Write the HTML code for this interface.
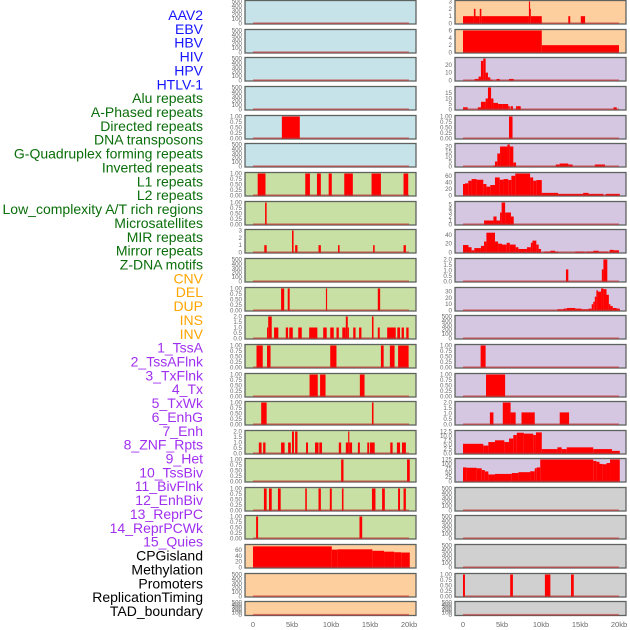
<!DOCTYPE html>
<html><head><meta charset="utf-8">
<style>
html,body{margin:0;padding:0;background:#fff;}
svg{display:block;font-family:"Liberation Sans",sans-serif;}
</style></head>
<body>
<svg id="chart" width="630" height="630" viewBox="0 0 630 630" xmlns="http://www.w3.org/2000/svg">
<g id="labels"></g>
<g id="panels"></g>
<g id="xaxes"></g>
</svg>
<script>
// ---- track labels ----
const trackNames = ["AAV2","EBV","HBV","HIV","HPV","HTLV-1","Alu repeats","A-Phased repeats","Directed repeats","DNA transposons","G-Quadruplex forming repeats","Inverted repeats","L1 repeats","L2 repeats","Low_complexity A/T rich regions","Microsatellites","MIR repeats","Mirror repeats","Z-DNA motifs","CNV","DEL","DUP","INS","INV","1_TssA","2_TssAFlnk","3_TxFlnk","4_Tx","5_TxWk","6_EnhG","7_Enh","8_ZNF_Rpts","9_Het","10_TssBiv","11_BivFlnk","12_EnhBiv","13_ReprPC","14_ReprPCWk","15_Quies","CPGisland","Methylation","Promoters","ReplicationTiming","TAD_boundary"];
const trackGroups = [0,0,0,0,0,0,1,1,1,1,1,1,1,1,1,1,1,1,1,2,2,2,2,2,3,3,3,3,3,3,3,3,3,3,3,3,3,3,3,4,4,4,4,4];
const groupColors = ["#1515ff","#0a6e0a","#ffa500","#a030f0","#000000"];

// ---- x axis ----
const xTickValues = [0,5,10,15,20];
const xTickLabels = ["0","5kb","10kb","15kb","20kb"];

// ---- left column panels: [startKb, endKb, value] ----
const L0 = [], L1 = [], L2 = [], L3 = [], L5 = [], L9 = [], L20 = [], L21 = [];
const L4 = [[3.7,6.0,1]];
const L6 = [[0.6,1.6,1],[6.7,7.3,1],[8.2,8.7,1],[9.7,10.1,1],[11.7,12.8,1],[15.2,16.4,1],[19.3,19.9,1]];
const L7 = [[1.55,1.75,1]];
const L8 = [[1.45,1.75,1],[5.0,5.2,3],[5.4,5.7,1],[8.4,8.7,1],[10.9,11.1,1],[15.4,15.6,1],[19.3,19.6,1]];
const L10 = [[3.6,4.0,1],[4.45,4.7,1],[9.35,9.5,1],[16.0,16.3,1]];
const L11 = [[1.8,1.95,1],[1.95,2.4,2],[2.7,3.25,1],[4.2,4.5,1],[4.65,5.1,1],[5.8,6.25,1],[7.2,8.25,1],[9.0,9.45,1],[9.9,10.35,1],[10.7,11.0,1],[11.45,11.9,1],[11.9,12.15,2],[12.15,12.3,1],[12.85,13.15,1],[13.6,13.9,1],[15.25,15.45,2],[16.0,16.25,1],[17.2,18.3,1],[18.5,18.85,1],[19.05,19.35,1],[19.65,19.95,1]];
const L12 = [[0.45,1.25,1],[1.8,2.25,1],[9.9,10.7,1],[16.4,16.75,1],[17.55,18.15,1],[18.6,19.95,1]];
const L13 = [[7.25,8.3,1],[8.6,9.3,1],[13.7,14.3,1]];
const L14 = [[1.05,1.75,1],[15.25,15.45,1]];
const L15 = [[0.75,1.1,1],[1.3,1.6,1],[3.6,4.05,1],[4.5,4.85,1],[5.0,5.25,2],[5.4,5.7,2],[6.8,7.05,1],[7.95,8.4,1],[8.5,8.85,1],[11.0,11.3,1],[11.9,12.2,1],[12.2,12.35,2],[12.35,12.7,1],[13.45,13.7,1],[14.65,14.9,1],[15.0,15.6,1],[17.6,17.9,1],[18.45,18.85,1],[19.1,19.6,1]];
const L16 = [[11.3,11.6,1],[19.75,20.1,1]];
const L17 = [[1.4,1.75,1],[2.05,2.4,1],[3.2,3.55,1],[6.7,6.9,1],[8.4,8.7,1],[9.85,10.1,1],[11.4,11.6,1],[15.25,15.7,1],[16.55,16.9,1],[18.6,18.85,1],[19.3,19.6,1]];
const L18 = [[0.4,0.65,1],[13.65,14.0,1]];
const L19 = [[0,10.1,72],[10.1,10.85,61],[10.85,15.3,62],[15.3,16.8,57],[16.8,18.1,54],[18.1,19.0,52],[19.0,20.1,51]];

// ---- right column panels ----
const R11 = [], R17 = [], R18 = [], R19 = [], R21 = [];
const R0 = [[0,1.4,1],[1.4,1.6,2],[1.6,2.15,1],[2.15,2.35,2],[2.35,8.45,1],[8.45,8.6,3],[8.6,8.7,2],[8.7,10.1,1],[13.5,13.75,1],[15.1,15.65,1]];
const R1 = [[0,10.1,6],[10.1,20.0,2]];
const R2 = [[1.5,2.0,2],[2.0,2.3,5],[2.3,2.6,25],[2.6,2.9,28],[2.9,3.2,10],[3.2,3.5,4],[3.5,3.8,1],[4.3,4.7,2],[5.9,6.5,2]];
const R3 = [[0,0.6,2],[1.9,2.3,2],[2.3,2.9,7],[2.9,3.2,10],[3.2,3.6,20],[3.6,3.9,10],[3.9,4.5,6],[4.5,5.1,5],[5.1,5.8,5],[5.8,6.0,3],[6.1,6.4,3],[6.8,7.0,3],[7.0,7.4,3],[19.3,19.7,2]];
const R4 = [[5.9,6.35,1]];
const R5 = [[3.9,4.1,1],[4.1,4.4,5],[4.4,4.75,13],[4.75,5.7,20],[5.7,6.0,22],[6.0,6.45,20],[6.45,6.8,4],[11.9,12.4,2],[12.4,13.5,3],[13.5,14.05,2],[16.9,18.2,2]];
const R6 = [[0,0.26,35],[0.26,0.68,37],[0.68,1.1,45],[1.1,1.75,50],[1.75,2.6,48],[2.6,3.0,35],[3.0,3.5,27],[3.5,4.1,32],[4.1,4.7,55],[4.7,5.2,48],[5.2,5.8,50],[5.8,6.2,47],[6.2,6.7,60],[6.7,8.6,67],[8.6,9.0,55],[9.0,9.4,45],[9.4,10.1,47],[10.1,12.2,8],[12.2,15.4,5],[15.4,16.1,8],[16.1,18.0,5],[18.3,20.1,5]];
const R7 = [[2.7,3.9,1],[3.9,4.3,2],[4.3,4.75,1],[4.75,4.95,3],[4.95,5.4,5.5],[5.4,6.15,3],[6.15,6.5,2]];
const R8 = [[0,0.7,17],[0.7,1.1,12],[1.1,1.45,5],[1.45,2.3,10],[2.3,2.7,15],[2.7,3.0,25],[3.0,4.1,45],[4.1,4.5,25],[4.5,5.0,20],[5.0,5.6,18],[5.6,6.0,22],[6.0,6.75,18],[6.75,7.1,12],[7.1,8.2,8],[8.2,8.7,12],[8.7,8.9,22],[8.9,9.4,27],[9.4,9.7,18],[9.7,10.0,8],[10.4,11.2,2],[11.2,11.8,4],[11.8,12.2,2],[14.4,15.6,2],[15.8,16.7,2],[16.7,17.4,4],[17.4,18.0,2],[18.0,18.6,2],[18.8,19.3,6],[19.3,20.0,5]];
const R9 = [[13.2,13.5,1.1],[17.8,18.0,1.1],[18.0,18.5,2]];
const R10 = [[12.1,12.9,2],[12.9,13.3,3],[13.3,14.4,4],[14.4,15.2,3],[15.2,16.1,2],[16.1,16.5,3],[16.5,16.7,10],[16.7,16.9,14],[16.9,17.1,22],[17.1,17.3,32],[17.3,17.7,30],[17.7,18.0,35],[18.0,18.4,34],[18.4,18.7,25],[18.7,18.9,10],[18.9,19.2,7],[19.2,19.7,4],[19.7,20.1,3]];
const R12 = [[2.26,2.9,1]];
const R13 = [[2.95,5.4,1]];
const R14 = [[3.45,3.9,1.1],[5.1,6.1,2],[6.1,6.75,1.1],[7.5,9.2,1.1],[12.4,13.6,1.1]];
const R15 = [[0,2.6,5.5],[2.6,3.25,4.5],[3.25,4.1,6.5],[4.1,5.3,7.5],[5.3,5.9,6.5],[5.9,6.45,8.5],[6.45,6.9,10.5],[6.9,7.8,11.8],[7.8,9.0,11.3],[9.0,9.35,10.5],[9.35,10.1,12],[10.1,12.1,2.5],[12.1,12.65,3.5],[12.65,13.3,2.5],[13.3,16.7,3.5],[16.7,19.1,2.5],[19.1,20.1,1.5]];
const R16 = [[0,0.47,80],[0.47,1.75,78],[1.75,2.4,75],[2.4,2.8,65],[2.8,3.25,57],[3.25,4.1,40],[4.1,6.25,43],[6.25,7.1,48],[7.1,8.6,53],[8.6,9.2,58],[9.2,9.45,75],[9.45,9.9,80],[9.9,16.7,125],[16.7,17.1,117],[17.1,17.5,112],[17.5,17.9,100],[17.9,18.4,98],[18.4,18.85,105],[18.85,20.1,125]];
const R20 = [[0,0.25,1],[6.05,6.4,1],[10.5,11.2,1],[13.85,14.2,1]];

// ---- y tick sets ----
const T500 = ["0","100","200","300","400","500"];
const T1 = ["0.00","0.25","0.50","0.75","1.00"];
const T2 = ["0.0","0.5","1.0","1.5","2.0"];

const rowTops = [0,29,57,86,115,143,172,201,229,258,287,315,344,373,401,430,458,487,515,544,573,601];
const BLUE="#c7e3ea", GREEN="#c8e0a3", ORANGE="#fecf9e", PURPLE="#d5c6e1", GREY="#d0d0d0";

const leftPanels = [
 [L0,500,[0,100,200,300,400,500],T500,BLUE],
 [L1,500,[0,100,200,300,400,500],T500,BLUE],
 [L2,500,[0,100,200,300,400,500],T500,BLUE],
 [L3,500,[0,100,200,300,400,500],T500,BLUE],
 [L4,1,[0,0.25,0.5,0.75,1],T1,BLUE],
 [L5,500,[0,100,200,300,400,500],T500,BLUE],
 [L6,1,[0,0.25,0.5,0.75,1],T1,GREEN],
 [L7,1,[0,0.25,0.5,0.75,1],T1,GREEN],
 [L8,3,[0,1,2,3],["0","1","2","3"],GREEN],
 [L9,500,[0,100,200,300,400,500],T500,GREEN],
 [L10,1,[0,0.25,0.5,0.75,1],T1,GREEN],
 [L11,2,[0,0.5,1,1.5,2],T2,GREEN],
 [L12,1,[0,0.25,0.5,0.75,1],T1,GREEN],
 [L13,1,[0,0.25,0.5,0.75,1],T1,GREEN],
 [L14,1,[0,0.25,0.5,0.75,1],T1,GREEN],
 [L15,2,[0,0.5,1,1.5,2],T2,GREEN],
 [L16,1,[0,0.25,0.5,0.75,1],T1,GREEN],
 [L17,1,[0,0.25,0.5,0.75,1],T1,GREEN],
 [L18,1,[0,0.25,0.5,0.75,1],T1,GREEN],
 [L19,75,[0,20,40,60],["0","20","40","60"],ORANGE],
 [L20,500,[0,100,200,300,400,500],T500,ORANGE],
 [L21,500,[0,100,200,300,400,500],T500,ORANGE]
];
const rightPanels = [
 [R0,3,[0,1,2,3],["0","1","2","3"],ORANGE],
 [R1,6,[0,2,4,6],["0","2","4","6"],ORANGE],
 [R2,28,[0,10,20],["0","10","20"],PURPLE],
 [R3,20,[0,5,10,15],["0","5","10","15"],PURPLE],
 [R4,1,[0,0.25,0.5,0.75,1],T1,PURPLE],
 [R5,22,[0,5,10,15,20],["0","5","10","15","20"],PURPLE],
 [R6,67,[0,20,40,60],["0","20","40","60"],PURPLE],
 [R7,5.5,[0,1,2,3,4,5],["0","1","2","3","4","5"],PURPLE],
 [R8,50,[0,20,40],["0","20","40"],PURPLE],
 [R9,2,[0,0.5,1,1.5,2],T2,PURPLE],
 [R10,35,[0,10,20,30],["0","10","20","30"],PURPLE],
 [R11,500,[0,100,200,300,400,500],T500,PURPLE],
 [R12,1,[0,0.25,0.5,0.75,1],T1,PURPLE],
 [R13,1,[0,0.25,0.5,0.75,1],T1,PURPLE],
 [R14,2,[0,0.5,1,1.5,2],T2,PURPLE],
 [R15,12.5,[0,2.5,5,7.5,10,12.5],["0.0","2.5","5.0","7.5","10.0","12.5"],PURPLE],
 [R16,125,[0,25,50,75,100,125],["0","25","50","75","100","125"],PURPLE],
 [R17,500,[0,100,200,300,400,500],T500,GREY],
 [R18,500,[0,100,200,300,400,500],T500,GREY],
 [R19,500,[0,100,200,300,400,500],T500,GREY],
 [R20,1,[0,0.25,0.5,0.75,1],T1,GREY],
 [R21,500,[0,100,200,300,400,500],T500,GREY]
];

const NS="http://www.w3.org/2000/svg";
function mk(tag, attrs, parent){const e=document.createElementNS(NS,tag);for(const k in attrs)e.setAttribute(k,attrs[k]);parent.appendChild(e);return e;}

const lg=document.getElementById('labels');
trackNames.forEach((n,i)=>{
  const t=mk('text',{x:203,y:20+i*13.86,'text-anchor':'end','font-size':'14',fill:groupColors[trackGroups[i]]},lg);
  
  
  t.textContent=n;
});

const pg=document.getElementById('panels');
function drawColumn(panels, px, col){
  const W=171;
  const xs=kb=>px+8+kb*7.8;
  panels.forEach((p,i)=>{
    const [data,ymax,tv,tl,fill]=p;
    const top=rowTops[i], h=(i===21?15:24.5), bot=top+h;
    const ys=v=>bot-1-v/ymax*(h-2.5);
    const g=mk('g',{},pg);
    
    
    const bg=mk('rect',{x:px,y:top+0.5,width:W,height:h-1,fill:fill,stroke:'#5f6360','stroke-width':1.3},g);
    
    
    data.forEach(d=>{
      const r=mk('rect',{x:xs(d[0]),y:ys(d[2]),width:Math.max(0.8,xs(d[1])-xs(d[0])),height:ys(0)-ys(d[2]),fill:'#ff0000'},g);
      
      
    });
    const bl=mk('line',{x1:xs(0),x2:xs(20),y1:ys(0)-0.3,y2:ys(0)-0.3,stroke:'#c03030','stroke-opacity':0.6,'stroke-width':1.6},g);
    
    
    tv.forEach((v,k)=>{
      const t=mk('text',{x:px-3,y:ys(v)+2,'text-anchor':'end','font-size':'6.2',fill:'#6a6a6a'},g);
      
      
      t.textContent=tl[k];
    });
  });
  const xg=document.getElementById('xaxes');
  xTickValues.forEach((v,k)=>{
    const t=mk('text',{x:xs(v),y:627,'text-anchor':'middle','font-size':'7.5',fill:'#6a6a6a'},xg);
    
    
    t.textContent=xTickLabels[k];
  });
}
drawColumn(leftPanels,245,'left');
drawColumn(rightPanels,455,'right');
</script>
</body></html>
